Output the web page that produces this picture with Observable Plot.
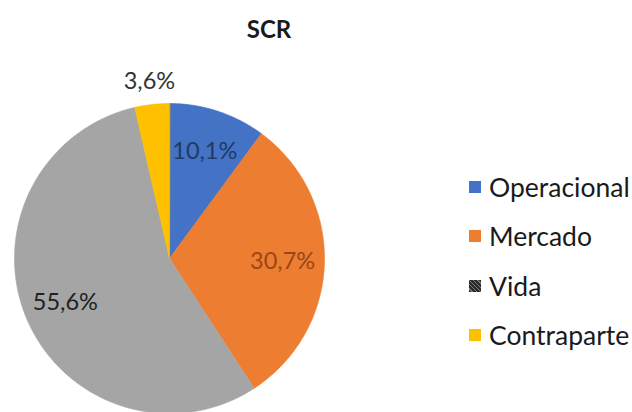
<!DOCTYPE html>
<html>
<head>
<meta charset="utf-8">
<script src="https://cdn.jsdelivr.net/npm/d3@7"></script>
<script src="https://cdn.jsdelivr.net/npm/@observablehq/plot@0.6"></script>
<style>
  html, body { margin: 0; padding: 0; background: #fff; }
  #wrap { position: relative; width: 632px; height: 412px; overflow: hidden; font-family: Lato, "Open Sans", sans-serif; }
  #title { position: absolute; left: 0; top: 14px; width: 538px; text-align: center; font-weight: 700; font-size: 24px; color: #1a1a1a; }
  #legend { position: absolute; left: 469px; top: 0; }
  .row { position: absolute; left: 0; display: flex; align-items: center; white-space: nowrap; font-size: 26.5px; color: #1a1a1a; transform: translateY(-50%); }
  .sw { width: 12px; height: 12px; margin-right: 8px; }
</style>
</head>
<body>
<div id="wrap">
  <div id="chart"></div>
  <div id="title">SCR</div>
  <div id="legend"></div>
</div>
<script>
const categories = ["Operacional", "Mercado", "Vida", "Contraparte"];
const values = [10.1, 30.7, 55.6, 3.6];
const labels = ["10,1%", "30,7%", "55,6%", "3,6%"];
const colors = ["#4472c4", "#ed7d31", "#a5a5a5", "#ffc000"];
const labelColors = ["#1f3a66", "#9a4715", "#222222", "#333333"];

const rows = categories.map((name, i) => ({name, value: values[i], label: labels[i], labelColor: labelColors[i]}));
const arcs = d3.pie().sort(null).value(d => d.value)(rows);

// slice outlines built from pie angles (unit circle)
const pts = [];
for (const a of arcs) {
  pts.push({name: a.data.name, x: 0, y: 0});
  const n = Math.max(2, Math.ceil((a.endAngle - a.startAngle) / (Math.PI / 180)));
  for (let k = 0; k <= n; k++) {
    const t = a.startAngle + (a.endAngle - a.startAngle) * k / n;
    pts.push({name: a.data.name, x: Math.sin(t), y: Math.cos(t)});
  }
}
const labelPts = arcs.map(a => {
  const m = (a.startAngle + a.endAngle) / 2;
  const r = a.data.value < 5 ? 1.15 : 0.73;
  return {x: r * Math.sin(m), y: r * Math.cos(m), label: a.data.label, c: a.data.labelColor};
});

const chart = Plot.plot({
  width: 632,
  height: 412,
  margin: 0,
  x: {domain: [-1, 1], range: [14, 324], axis: null},
  y: {domain: [-1, 1], range: [413, 103], axis: null},
  color: {domain: categories, range: colors},
  style: {fontFamily: "Lato, 'Open Sans', sans-serif", background: "white"},
  marks: [
    Plot.line(pts, {x: "x", y: "y", z: "name", fill: "name", stroke: "name", strokeWidth: 0.6, curve: "linear-closed"}),
    Plot.text(labelPts, {x: "x", y: "y", text: "label", fill: "c", fontSize: 23.5})
  ]
});
document.getElementById("chart").appendChild(chart);

const legend = document.getElementById("legend");
const rowY = [187, 236, 286, 335];
categories.forEach((name, i) => {
  const r = document.createElement("div");
  r.className = "row";
  r.style.top = rowY[i] + "px";
  const sw = document.createElement("div");
  sw.className = "sw";
  if (name === "Vida") {
    sw.style.background = "repeating-linear-gradient(45deg, #2a2a2a 0 2px, #7a7a7a 2px 3px)";
  } else {
    sw.style.background = colors[i];
  }
  r.appendChild(sw);
  const t = document.createElement("span");
  t.textContent = name;
  r.appendChild(t);
  legend.appendChild(r);
});
</script>
</body>
</html>
